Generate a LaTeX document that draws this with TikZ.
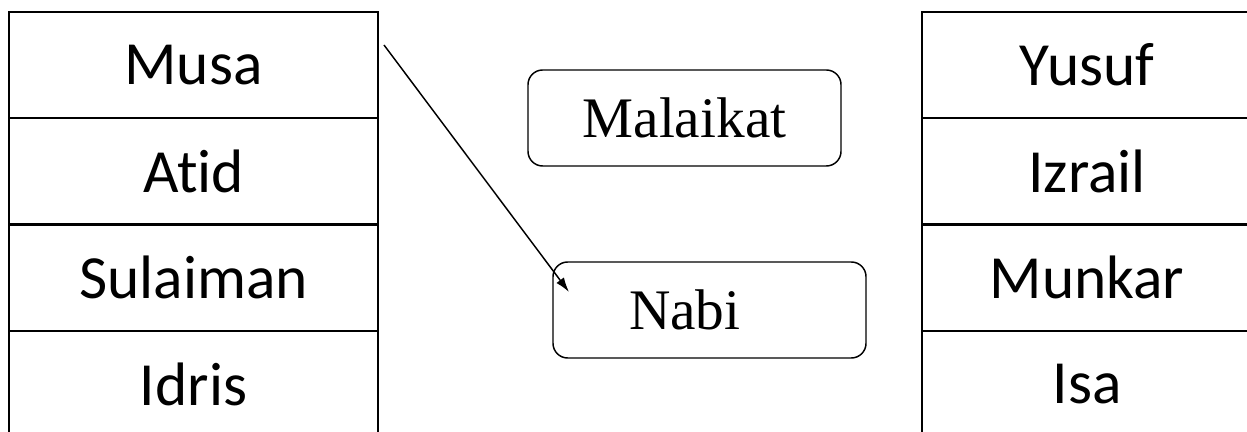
\documentclass[tikz,border=0pt]{standalone}
\usepackage{fontspec}
\setmainfont{Liberation Serif}
\newfontfamily\cellfont[Ligatures={NoCommon}]{Carlito}
\usetikzlibrary{arrows.meta}

\begin{document}
\begin{tikzpicture}[x=0.75pt, y=0.75pt,
  cell/.style={rectangle, draw, line width=1.7pt, minimum height=79.7pt,
    inner sep=0pt, font=\cellfont\fontsize{46}{50}\selectfont},
  leftcell/.style={cell, minimum width=276.75pt},
  rightcell/.style={cell, minimum width=247.5pt},
  roundbox/.style={rectangle, rounded corners=11pt, draw, line width=1.1pt,
    minimum width=234.75pt, minimum height=72pt, inner sep=0pt,
    font=\fontsize{43}{48}\selectfont},
  every path/.style={line width=1.1pt}]
  \useasboundingbox (0,0) rectangle (1247,432);
  % Left column
  \node[leftcell] (l1) at (193.5, 366.8) {Musa};
  \node[leftcell] (l2) at (193.5, 260.5) {Atid};
  \node[leftcell] (l3) at (193.5, 154.2) {Sulaiman};
  \node[leftcell] (l4) at (193.5, 47.9) {Idris};
  % Right column
  \node[rightcell] (r1) at (1087, 366.8) {Yusuf};
  \node[rightcell] (r2) at (1087, 260.5) {Izrail};
  \node[rightcell] (r3) at (1087, 154.2) {Munkar};
  \node[rightcell] (r4) at (1087, 47.9) {Isa};
  % Middle boxes
  \node[roundbox] (malaikat) at (684.5, 314) {Malaikat};
  \node[roundbox] (nabi) at (709.5, 122) {\hspace*{-37pt}\raisebox{-5pt}{Nabi}};
  % Arrow
  \coordinate (from) at (384, 387);
  \coordinate (to) at (569, 140);
  \draw[-{Latex[length=11pt, width=7pt]}] (from) -- (to);
\end{tikzpicture}
\end{document}
